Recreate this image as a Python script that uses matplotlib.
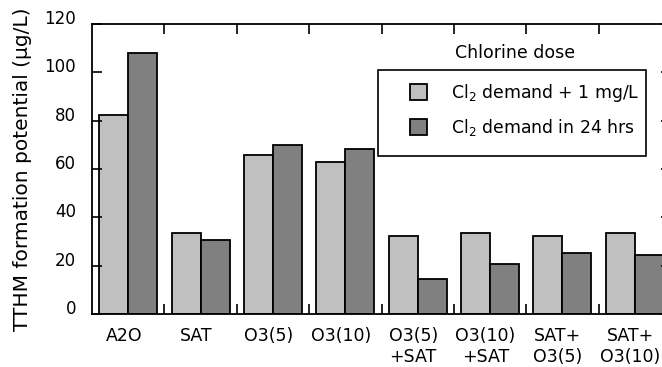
import numpy as np
import matplotlib
matplotlib.use('Agg')
import matplotlib.pyplot as plt
import matplotlib.transforms as mtransforms
from matplotlib.patches import Patch, Rectangle

plt.rcParams['font.family'] = ['DejaVu Sans']
plt.rcParams['mathtext.fontset'] = 'dejavusans'

# datos
categorias = ['A2O', 'SAT', 'O3(5)', 'O3(10)', 'O3(5)\n+SAT', 'O3(10)\n+SAT',
              'SAT+\nO3(5)', 'SAT+\nO3(10)']
demanda_1mg = [82.3, 33.6, 65.9, 63.0, 32.4, 33.6, 32.4, 33.6]
demanda_24h = [108.0, 30.5, 69.9, 68.3, 14.5, 20.6, 25.2, 24.4]
etiquetas = ['Cl$_2$ demand + 1 mg/L', 'Cl$_2$ demand in 24 hrs']
colores = ['#c0c0c0', '#808080']

fig = plt.figure(figsize=(6.62, 3.67), dpi=100)
W, H = 662, 367
# el eje derecho queda fuera de la imagen, como en el original
ax = fig.add_axes([92 / W, 53 / H, 579 / W, 290 / H])

x = np.arange(len(categorias))
ancho = 0.4
ax.bar(x - ancho / 2, demanda_1mg, ancho, color=colores[0], edgecolor='black', linewidth=1.3)
ax.bar(x + ancho / 2, demanda_24h, ancho, color=colores[1], edgecolor='black', linewidth=1.3)

ax.set_xlim(-0.5, len(categorias) - 0.5)
ax.set_ylim(0, 120)

for s in ax.spines.values():
    s.set_linewidth(1.3)

# eje y
ax.set_yticks(np.arange(0, 121, 20))
ax.tick_params(axis='y', which='major', direction='in', length=7.2, width=1.2,
               left=True, right=True, labelsize=12, pad=11.5)
for t in ax.get_yticklabels():
    t.set_verticalalignment('baseline')
fig.text(23 / W, 1 - 169 / H, 'TTHM formation potential (µg/L)', rotation=90,
         ha='center', va='center', fontsize=14.5)

# eje x: etiquetas en el centro, marcas entre grupos
ax.set_xticks(x)
ax.set_xticklabels(categorias, fontsize=12.5, linespacing=1.2)
ax.tick_params(axis='x', which='major', length=0, pad=9.5)
# las etiquetas van un poco a la izquierda en el original
desplaza = mtransforms.ScaledTranslation(-0.045, 0, fig.dpi_scale_trans)
for t in ax.get_xticklabels():
    t.set_transform(t.get_transform() + desplaza)
ax.set_xticks(np.arange(0.5, len(categorias) - 0.5, 1), minor=True)
ax.tick_params(axis='x', which='minor', direction='in', length=7.2, width=1.2,
               bottom=True, top=True)

# leyenda
handles = [Patch(facecolor=c, edgecolor='black', linewidth=1.3) for c in colores]
leg = fig.legend(handles, etiquetas, loc='upper left',
                 bbox_to_anchor=(410 / W, 1 - 82 / H), fontsize=12.4,
                 frameon=False, handlelength=1.0, handleheight=1.0,
                 handletextpad=1.4, labelspacing=0.75, borderpad=0,
                 borderaxespad=0)
fig.patches.append(Rectangle((378 / W, 1 - 156 / H), 268 / W, 86 / H,
                             transform=fig.transFigure, fill=False,
                             edgecolor='black', linewidth=1.2))
fig.text(515 / W, 1 - 53 / H, 'Chlorine dose', ha='center', va='center', fontsize=12.5)

fig.savefig('out.png', dpi=100)
